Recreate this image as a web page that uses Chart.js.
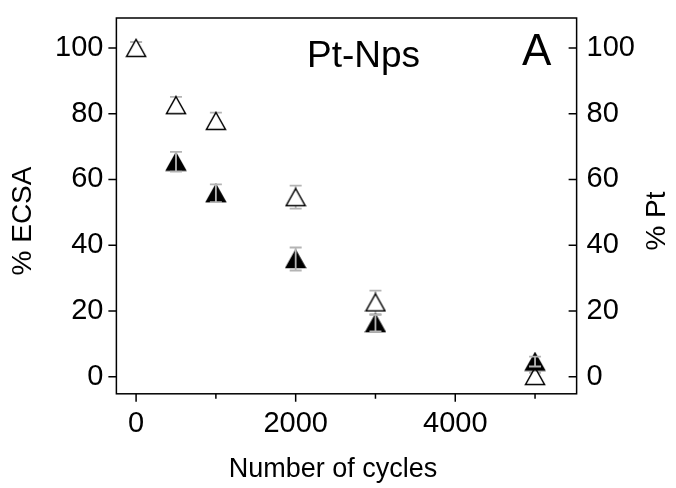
<!DOCTYPE html>
<html>
<head>
<meta charset="utf-8">
<script src="https://cdn.jsdelivr.net/npm/chart.js@4"></script>
<style>
  body { margin: 0; background: #fff; }
  #wrap { width: 676px; height: 488px; }
</style>
</head>
<body>
<div id="wrap"><canvas id="chartviewport"></canvas></div>
<script>
// cycles
const cycles = [0, 500, 1000, 2000, 3000, 5000];
// % ECSA (open triangles, left axis)
const ecsa = [100, 82.6, 77.8, 54.6, 22.6, 0.2];
const ecsaErr = [1.8, 2.5, 2.5, 3.5, 3.6, 1.0];
// % Pt (filled triangles, right axis)
const ptCycles = [500, 1000, 2000, 3000, 5000];
const pt = [65.4, 55.8, 35.8, 16.3, 4.6];
const ptErr = [3.0, 2.7, 3.5, 2.5, 1.5];
// tick values
const xTicks = [0, 1000, 2000, 3000, 4000, 5000];
const yTicks = [0, 10, 20, 30, 40, 50, 60, 70, 80, 90, 100];

const FONT = "'Liberation Sans', Arial, sans-serif";

function triangle(fill) {
    const c = document.createElement('canvas');
    c.width = 22; c.height = 20;
    const g = c.getContext('2d');
    g.beginPath();
    g.moveTo(11, 1.5);
    g.lineTo(20.5, 18.5);
    g.lineTo(1.5, 18.5);
    g.closePath();
    g.fillStyle = fill ? '#000' : '#fff';
    g.fill();
    g.lineWidth = 1.5;
    g.strokeStyle = '#000';
    g.stroke();
    return c;
}

function toPoints(xs, ys) {
    return xs.map((x, i) => ({ x: x, y: ys[i] }));
}

function drawErrors(chart, xs, ys, errs, axisId) {
    const ctx = chart.ctx;
    const sx = chart.scales.x, sy = chart.scales[axisId];
    ctx.save();
    ctx.strokeStyle = '#b4b4b4';
    ctx.lineWidth = 1.8;
    xs.forEach((x, i) => {
        const px = sx.getPixelForValue(x);
        const top = sy.getPixelForValue(ys[i] + errs[i]);
        const bot = sy.getPixelForValue(ys[i] - errs[i]);
        ctx.beginPath();
        ctx.moveTo(px, top); ctx.lineTo(px, bot);
        ctx.moveTo(px - 6, top); ctx.lineTo(px + 6, top);
        ctx.moveTo(px - 6, bot); ctx.lineTo(px + 6, bot);
        ctx.stroke();
    });
    ctx.restore();
}

const errorBars = {
    id: 'errorBars',
    beforeDatasetsDraw(chart) { drawErrors(chart, cycles, ecsa, ecsaErr, 'y'); },
    afterDatasetsDraw(chart) { drawErrors(chart, ptCycles, pt, ptErr, 'y2'); }
};

function vText(ctx, text, x, y) {
    ctx.save();
    ctx.translate(x, y);
    ctx.rotate(-Math.PI / 2);
    ctx.textAlign = 'center';
    ctx.textBaseline = 'middle';
    ctx.fillText(text, 0, 0);
    ctx.restore();
}

const frame = {
    id: 'frame',
    afterDraw(chart) {
        const ctx = chart.ctx, a = chart.chartArea;
        ctx.save();
        ctx.strokeStyle = '#000';
        ctx.lineWidth = 1.5;
        ctx.strokeRect(a.left, a.top, a.right - a.left, a.bottom - a.top);
        ctx.beginPath();
        const sx = chart.scales.x, sy = chart.scales.y, sy2 = chart.scales.y2;
        sx.ticks.forEach(t => {
            const px = sx.getPixelForValue(t.value);
            const len = t.value % 2000 === 0 ? 8 : 5;
            ctx.moveTo(px, a.bottom); ctx.lineTo(px, a.bottom + len);
        });
        sy.ticks.forEach(t => {
            const py = sy.getPixelForValue(t.value);
            const len = t.value % 20 === 0 ? 8 : 5;
            ctx.moveTo(a.left - len, py); ctx.lineTo(a.left, py);
        });
        sy2.ticks.forEach(t => {
            const py = sy2.getPixelForValue(t.value);
            const len = t.value % 20 === 0 ? 8 : 5;
            ctx.moveTo(a.right - len, py); ctx.lineTo(a.right, py);
        });
        ctx.stroke();
        // labels inside the plot
        ctx.fillStyle = '#000';
        ctx.textBaseline = 'alphabetic';
        ctx.textAlign = 'center';
        ctx.font = '37px ' + FONT;
        ctx.fillText('Pt-Nps', sx.getPixelForValue(2850), sy.getPixelForValue(94.3));
        ctx.font = '44px ' + FONT;
        ctx.fillText('A', sx.getPixelForValue(5020), sy.getPixelForValue(94.8));
        // axis titles (both read bottom to top), x title slightly left of centre
        ctx.font = '28px ' + FONT;
        vText(ctx, '% ECSA', 23, 221);
        vText(ctx, '% Pt', 657, 221);
        ctx.font = '27px ' + FONT;
        ctx.textBaseline = 'middle';
        ctx.fillText('Number of cycles', 333, 470);
        ctx.restore();
    }
};

const tickFont = { family: FONT, size: 29 };
const noPadV = s => { s.paddingTop = 0; s.paddingBottom = 0; };

const config = {
    type: 'scatter',
    data: {
        datasets: [{
            label: '% Pt',
            data: toPoints(ptCycles, pt),
            yAxisID: 'y2',
            pointStyle: triangle(true),
            order: 0
        }, {
            label: '% ECSA',
            data: toPoints(cycles, ecsa),
            yAxisID: 'y',
            pointStyle: triangle(false),
            order: 1
        }]
    },
    options: {
        responsive: true,
        maintainAspectRatio: false,
        animation: false,
        layout: { padding: { left: 50, right: 31, top: 18, bottom: 0 } },
        plugins: { legend: { display: false }, tooltip: { enabled: false } },
        scales: {
            x: {
                type: 'linear',
                min: -247, max: 5521,
                afterBuildTicks: s => { s.ticks = xTicks.map(v => ({ value: v })); },
                afterFit: s => { s.paddingLeft = 0; s.paddingRight = 0; },
                ticks: {
                    color: '#000', font: tickFont, padding: 5, maxRotation: 0,
                    callback: v => (v % 2000 === 0 ? String(v) : '')
                },
                grid: { drawOnChartArea: false, color: 'rgba(0,0,0,0)', tickLength: 8 },
                border: { display: false },
                // space kept for the title, which the frame plugin draws
                title: { display: true, text: 'Number of cycles', color: 'rgba(0,0,0,0)',
                         font: { family: FONT, size: 27 }, padding: { top: 9, bottom: 0 } }
            },
            y: {
                type: 'linear', position: 'left',
                min: -5.2, max: 109.1,
                afterBuildTicks: s => { s.ticks = yTicks.map(v => ({ value: v })); },
                afterFit: noPadV,
                ticks: {
                    color: '#000', font: tickFont, padding: 5,
                    callback: v => (v % 20 === 0 ? String(v) : '')
                },
                grid: { drawOnChartArea: false, color: 'rgba(0,0,0,0)', tickLength: 8 },
                border: { display: false }
            },
            y2: {
                type: 'linear', position: 'right',
                min: -5.2, max: 109.1,
                afterBuildTicks: s => { s.ticks = yTicks.map(v => ({ value: v })); },
                afterFit: noPadV,
                ticks: {
                    color: '#000', font: tickFont, padding: 10,
                    callback: v => (v % 20 === 0 ? String(v) : '')
                },
                grid: { drawOnChartArea: false, color: 'rgba(0,0,0,0)', tickLength: 0, drawTicks: false },
                border: { display: false }
            }
        }
    },
    plugins: [errorBars, frame]
};

const chart = new Chart(document.getElementById('chartviewport'), config);
</script>
</body>
</html>
